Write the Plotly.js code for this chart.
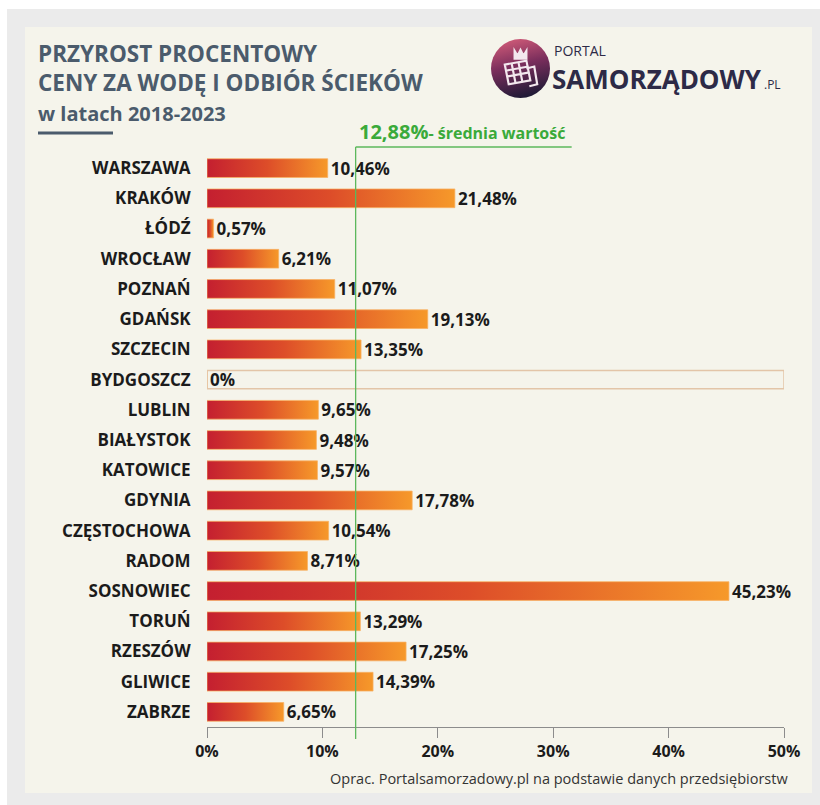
<!DOCTYPE html>
<html>
<head>
<meta charset="utf-8">
<script src="https://cdn.plot.ly/plotly-3.0.1.min.js"></script>
<style>html,body{margin:0;padding:0;background:#fff;}#chart{width:820px;height:805px;}</style>
</head>
<body>
<div id="chart"></div>
<script>
// ---- data ----
const cities = ["WARSZAWA","KRAKÓW","ŁÓDŹ","WROCŁAW","POZNAŃ","GDAŃSK","SZCZECIN","BYDGOSZCZ","LUBLIN","BIAŁYSTOK","KATOWICE","GDYNIA","CZĘSTOCHOWA","RADOM","SOSNOWIEC","TORUŃ","RZESZÓW","GLIWICE","ZABRZE"];
const growth = [10.46,21.48,0.57,6.21,11.07,19.13,13.35,0,9.65,9.48,9.57,17.78,10.54,8.71,45.23,13.29,17.25,14.39,6.65];
const average = 12.88;
const xTicks = [0,10,20,30,40,50];
const titleLines = ["PRZYROST PROCENTOWY","CENY ZA WODĘ I ODBIÓR ŚCIEKÓW","w latach 2018-2023"];
const sourceText = "Oprac. Portalsamorzadowy.pl na podstawie danych przedsiębiorstw";

const fmt = v => (v === 0 ? "0" : v.toFixed(2).replace(".", ",")) + "%";

// ---- geometry ----
const W = 820, H = 805;
const M = {l: 207, r: 36, t: 153, b: 78};
const PW = W - M.l - M.r, PH = H - M.t - M.b;
const px = x => (x - M.l) / PW;
const py = y => (H - M.b - y) / PH;

const FONT = "Open Sans, Noto Sans, sans-serif";
const zeroIdx = growth.indexOf(0);

const logoSvg = "<svg xmlns='http://www.w3.org/2000/svg' width='60' height='60' viewBox='0 0 60 60'>" +
  "<defs><linearGradient id='a' x1='0.3' y1='0' x2='0.55' y2='1'>" +
  "<stop offset='0' stop-color='#cf5a78'/><stop offset='0.45' stop-color='#7a2e5c'/><stop offset='1' stop-color='#1e1a36'/></linearGradient></defs>" +
  "<circle cx='30' cy='30' r='30' fill='url(#a)'/>" +
  "<g fill='none' stroke='#f3e8ee' stroke-width='2.2'>" +
  "<path d='M24 12 l3 5 l3 -6 l3 6 l3 -5 l0 8 l-12 0 z' fill='#f3e8ee'/>" +
  "<path d='M14 26 l22 -4 l4 20 l-22 4 z'/>" +
  "<path d='M16 32 l22 -4 M17 38 l22 -4 M21 25 l4 20 M28 24 l4 20'/>" +
  "<path d='M36 30 l8 -2 l3 18 l-8 2'/>" +
  "</g></svg>";

const trace = {
  type: "bar",
  orientation: "h",
  y: cities,
  x: growth,
  text: growth.map(fmt),
  textposition: "outside",
  constraintext: "none",
  cliponaxis: false,
  textfont: {family: FONT, size: 17, color: "#1b1b1b", weight: 700},
  marker: {color: "#e0552a", line: {color: "rgba(248,178,100,0.75)", width: 1}},
  hoverinfo: "none"
};

const shapes = [
  // outer grey frame and cream panel
  {type: "rect", xref: "paper", yref: "paper", x0: px(7), x1: px(820), y0: py(9), y1: py(805), fillcolor: "#ebebeb", line: {width: 0}, layer: "below"},
  {type: "rect", xref: "paper", yref: "paper", x0: px(25), x1: px(812), y0: py(27), y1: py(793), fillcolor: "#f5f4eb", line: {width: 0}, layer: "below"},
  // title underline
  {type: "line", xref: "paper", yref: "paper", x0: px(38), x1: px(113), y0: py(133), y1: py(133), line: {color: "#4b5b6c", width: 3}},
  // empty 0% bar outline
  {type: "rect", xref: "x", yref: "y", x0: 0, x1: xTicks[xTicks.length - 1], y0: zeroIdx - 0.3, y1: zeroIdx + 0.3, line: {color: "#e3c5a8", width: 1.5}, fillcolor: "rgba(0,0,0,0)", layer: "above"},
  // average line
  {type: "line", xref: "x", yref: "paper", x0: average, x1: average, y0: py(739), y1: py(147), line: {color: "#5cb85c", width: 1.3}},
  {type: "line", xref: "x", yref: "paper", x0: average, x1: 31.6, y0: py(147), y1: py(147), line: {color: "#5cb85c", width: 1.3}}
];

const annotations = [
  {text: "<b>" + titleLines[0] + "<br>" + titleLines[1] + "<br><span style='font-size:20px'>" + titleLines[2] + "</span></b>",
   xref: "paper", yref: "paper", x: px(36), y: py(82.5), xanchor: "left", yanchor: "middle", align: "left", showarrow: false,
   font: {family: FONT, size: 22.5, color: "#4b5b6c"}},
  // logo text
  {text: "PORTAL", xref: "paper", yref: "paper", x: px(552), y: py(50), xanchor: "left", yanchor: "middle", showarrow: false, font: {family: FONT, size: 14, color: "#2d2a47", weight: 400}},
  {text: "<b>SAMORZĄDOWY</b>", xref: "paper", yref: "paper", x: px(550), y: py(79), xanchor: "left", yanchor: "middle", showarrow: false, font: {family: FONT, size: 26, color: "#2d2a47"}},
  {text: ".PL", xref: "paper", yref: "paper", x: px(762), y: py(84), xanchor: "left", yanchor: "middle", showarrow: false, font: {family: FONT, size: 12, color: "#2d2a47", weight: 400}},
  // average label
  {text: "<b><span style='font-size:20px'>" + average.toFixed(2).replace(".", ",") + "%</span>- średnia wartość</b>", xref: "x", yref: "paper", x: average, y: py(131), xanchor: "left", yanchor: "middle", xshift: 1, showarrow: false, font: {family: FONT, size: 16, color: "#3aaa3a"}},
  // source
  {text: sourceText, xref: "paper", yref: "paper", x: px(790), y: py(778), xanchor: "right", yanchor: "middle", showarrow: false, font: {family: FONT, size: 14.5, color: "#333333"}}
];

const layout = {
  width: W, height: H,
  margin: M,
  paper_bgcolor: "#ffffff",
  plot_bgcolor: "rgba(0,0,0,0)",
  showlegend: false,
  bargap: 0.38,
  font: {family: FONT},
  xaxis: {
    range: [xTicks[0], xTicks[xTicks.length - 1]],
    tickvals: xTicks,
    ticktext: xTicks.map(v => v + "%"),
    showgrid: false, zeroline: false,
    showline: true, linecolor: "#8c8c8c", linewidth: 1,
    ticks: "outside", ticklen: 10, tickcolor: "#8c8c8c", tickwidth: 1,
    tickfont: {family: FONT, size: 16, color: "#1b1b1b", weight: 700},
    fixedrange: true
  },
  yaxis: {
    type: "category",
    categoryorder: "array", categoryarray: cities,
    autorange: "reversed",
    showgrid: false, zeroline: false, showline: false,
    ticks: "outside", ticklen: 12, tickcolor: "rgba(0,0,0,0)",
    tickfont: {family: FONT, size: 17, color: "#1b1b1b", weight: 700},
    fixedrange: true
  },
  shapes: shapes,
  annotations: annotations,
  images: [{
    source: "data:image/svg+xml;charset=utf-8," + encodeURIComponent(logoSvg),
    xref: "paper", yref: "paper",
    x: px(491), y: py(39), sizex: 59 / PW, sizey: 59 / PH,
    xanchor: "left", yanchor: "top", sizing: "stretch", layer: "above"
  }]
};

Plotly.newPlot("chart", [trace], layout, {displayModeBar: false, staticPlot: true}).then(gd => {
  const svg = gd.querySelector("svg.main-svg");
  const ns = "http://www.w3.org/2000/svg";
  let defs = svg.querySelector("defs");
  if (!defs) { defs = document.createElementNS(ns, "defs"); svg.insertBefore(defs, svg.firstChild); }
  const lg = document.createElementNS(ns, "linearGradient");
  lg.setAttribute("id", "barGrad");
  lg.setAttribute("x1", "0"); lg.setAttribute("y1", "0");
  lg.setAttribute("x2", "1"); lg.setAttribute("y2", "0");
  [["0", "#c41f30"], ["0.5", "#dd4d29"], ["1", "#f6992a"]].forEach(([o, c]) => {
    const s = document.createElementNS(ns, "stop");
    s.setAttribute("offset", o); s.setAttribute("stop-color", c);
    lg.appendChild(s);
  });
  defs.appendChild(lg);
  gd.querySelectorAll(".trace.bars .point path").forEach(p => { p.style.fill = "url(#barGrad)"; });
});
</script>
</body>
</html>
